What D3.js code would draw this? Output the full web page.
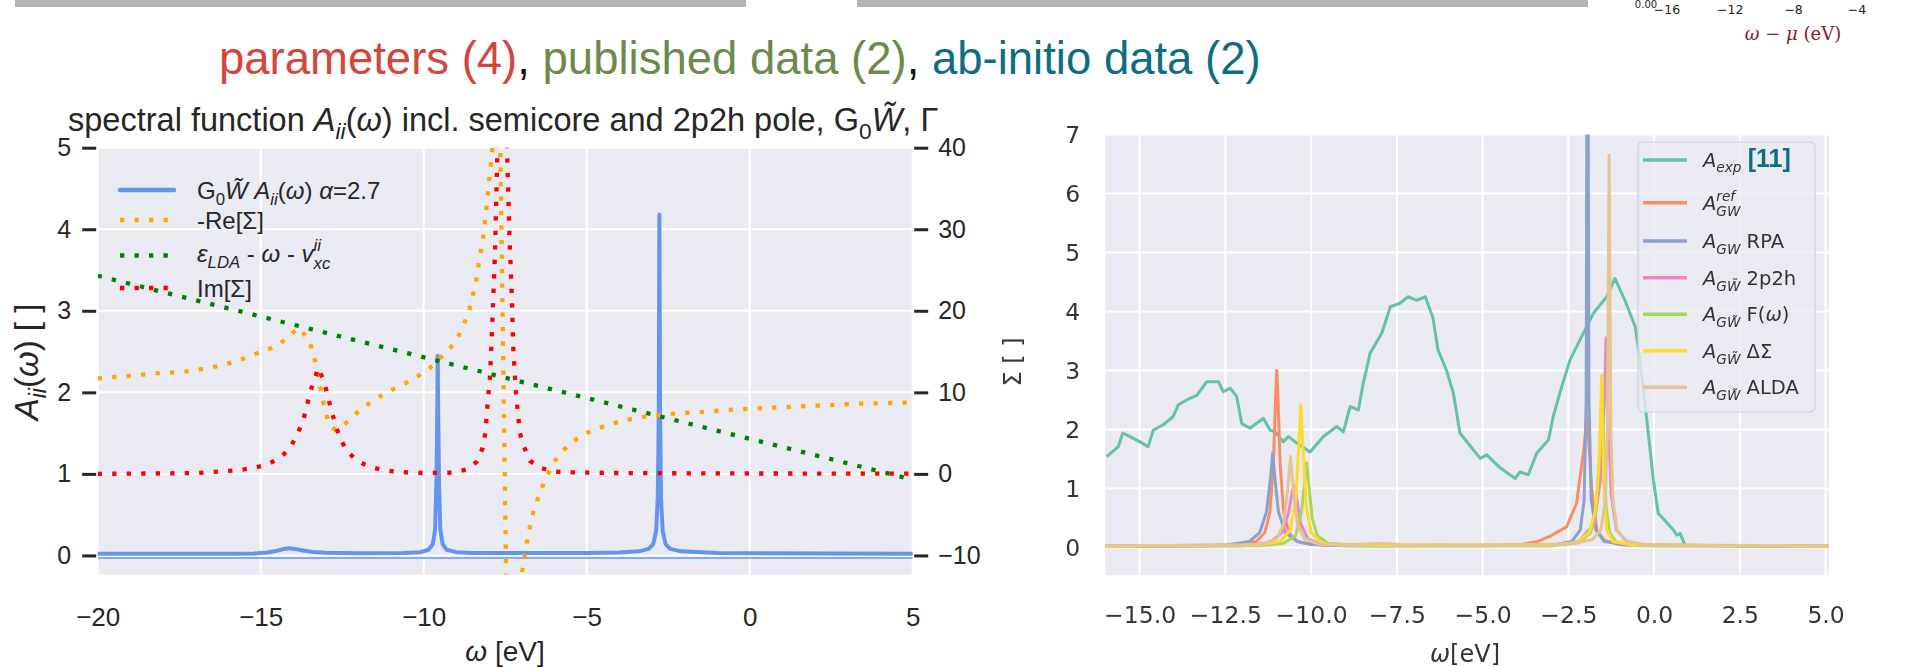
<!DOCTYPE html>
<html>
<head>
<meta charset="utf-8">
<script src="https://cdn.jsdelivr.net/npm/d3@7"></script>
<style>
  body { margin: 0; background: #fff; }
  svg { display: block; }
</style>
</head>
<body>
<script>

// ---- left panel: spectral function (left axis) and self energy (right axis), omega in eV
var leftXTicks = [-20, -15, -10, -5, 0, 5];
var leftYTicks = [0, 1, 2, 3, 4, 5];
var sigmaTicks = [-10, 0, 10, 20, 30, 40];

var specA = [[-20,0.02],[-16,0.022],[-15.2,0.025],[-14.8,0.035],[-14.5,0.058],[-14.3,0.078],[-14.14,0.088],
  [-13.95,0.08],[-13.7,0.06],[-13.4,0.042],[-13.0,0.032],[-12.0,0.026],[-10.6,0.03],[-10.1,0.04],[-9.85,0.07],
  [-9.72,0.14],[-9.65,0.32],[-9.61,0.9],[-9.585,1.7],[-9.57,2.45],[-9.555,1.7],[-9.53,0.9],[-9.49,0.32],
  [-9.42,0.14],[-9.3,0.07],[-9.0,0.04],[-8.5,0.03],[-5,0.03],[-4.0,0.035],[-3.4,0.05],[-3.1,0.08],[-2.96,0.14],
  [-2.87,0.3],[-2.82,0.7],[-2.79,1.7],[-2.77,4.18],[-2.75,1.7],[-2.72,0.7],[-2.67,0.3],[-2.58,0.14],
  [-2.44,0.08],[-2.1,0.05],[-1.0,0.03],[5,0.02]];
var specThin = [[-20,-0.03],[5,-0.03]];

var negReSigma = [[-20,11.7],[-19.1,12.0],[-18.3,12.3],[-17.4,12.5],[-16.55,13.0],[-15.75,13.8],[-14.9,15.1],
  [-14.5,15.7],[-14.15,16.8],[-13.85,17.9],[-13.54,16.6],[-13.39,14.8],[-13.28,13.0],[-13.18,10.8],[-13.08,8.8],
  [-12.97,7.0],[-12.85,5.8],[-12.71,5.4],[-12.55,5.8],[-12.37,6.3],[-12.05,7.5],[-11.69,8.6],[-11.34,9.5],
  [-10.93,10.4],[-10.57,11.1],[-10.17,12.0],[-9.81,13.0],[-9.5,14.2],[-9.19,15.4],[-8.94,16.8],[-8.75,18.5],
  [-8.61,20.0],[-8.4,23.4],[-8.27,26.9],[-8.19,28.5],[-8.14,30.3],[-8.09,32.0],[-8.05,33.7],[-8.0,35.5],
  [-7.97,37.1],[-7.91,38.9],[-7.85,42],[-7.7,54.5],[-7.36,-45],[-7.2,-25],[-7.1,-17],[-6.98,-12.0],
  [-6.84,-8.5],[-6.72,-6],[-6.62,-4.4],[-6.45,-2.5],[-6.32,-1.15],[-6.0,1.5],[-5.62,3.3],[-5.15,4.8],
  [-4.49,5.8],[-3.84,6.6],[-3.09,7.1],[-2.33,7.4],[-1.4,7.6],[-0.46,7.9],[1.42,8.25],[3.3,8.6],[5,8.75]];

var epsLine = [[-20,24.3],[5,-0.7]];

var imSigma = [[-20,0],[-17,0.1],[-16.2,0.3],[-15.67,0.48],[-15.25,0.69],[-14.83,1.1],[-14.43,1.9],
  [-14.12,3.05],[-13.91,4.6],[-13.73,6.2],[-13.61,7.8],[-13.51,9.6],[-13.4,11.1],[-13.23,13.0],[-13.04,11.1],
  [-12.83,7.75],[-12.71,6.1],[-12.58,4.5],[-12.37,2.9],[-12.08,1.7],[-11.69,0.9],[-11.28,0.5],[-10.84,0.27],
  [-10.41,0.15],[-9.97,0.1],[-9.1,0.15],[-8.67,0.56],[-8.37,1.5],[-8.19,3.2],[-8.11,5.0],[-8.05,8.2],
  [-7.97,11.7],[-7.91,17.0],[-7.86,22.2],[-7.81,27.5],[-7.78,32.8],[-7.74,39.5],[-7.59,90],[-7.44,39.5],
  [-7.37,29.1],[-7.3,22.2],[-7.25,15.2],[-7.17,9.9],[-7.05,5.0],[-6.92,3.3],[-6.74,1.6],[-6.4,0.7],
  [-5.97,0.27],[-5.53,0.2],[-4,0.1],[0,0.05],[5,0.03]];

// ---- right panel: spectra vs experiment
var omegaTicks = [-15, -12.5, -10, -7.5, -5, -2.5, 0, 2.5, 5];
var aTicks = [0, 1, 2, 3, 4, 5, 6, 7];

var aExp = [[-15.96,1.54],[-15.62,1.71],[-15.49,1.94],[-15.28,1.88],[-14.99,1.79],[-14.75,1.71],[-14.6,1.99],
  [-14.31,2.08],[-14.02,2.22],[-13.87,2.42],[-13.63,2.5],[-13.33,2.58],[-13.04,2.81],[-12.7,2.81],[-12.56,2.64],
  [-12.36,2.7],[-12.17,2.56],[-12.02,2.1],[-11.78,2.02],[-11.39,2.19],[-11.2,1.99],[-11.05,1.96],[-10.81,1.79],
  [-10.66,1.88],[-10.42,1.77],[-10.03,1.62],[-9.64,1.88],[-9.25,2.05],[-9.06,1.96],[-8.86,2.39],[-8.62,2.33],
  [-8.48,2.78],[-8.28,3.29],[-7.94,3.63],[-7.69,4.08],[-7.41,4.14],[-7.17,4.25],[-6.92,4.19],[-6.67,4.25],
  [-6.45,3.9],[-6.3,3.35],[-6.05,3.0],[-5.85,2.61],[-5.66,1.94],[-5.4,1.75],[-5.07,1.51],[-4.88,1.57],
  [-4.49,1.35],[-4.05,1.17],[-3.91,1.28],[-3.67,1.23],[-3.42,1.6],[-3.08,1.82],[-2.94,2.22],[-2.69,2.73],
  [-2.45,3.18],[-2.16,3.52],[-1.77,3.97],[-1.38,4.25],[-1.14,4.56],[-0.85,4.19],[-0.55,3.74],[-0.41,3.18],
  [-0.21,2.16],[-0.02,1.14],[0.12,0.58],[0.56,0.30],[0.66,0.21],[0.76,0.24],[0.9,0.04]];

var aRef = [[-16,0.02],[-13,0.03],[-12,0.05],[-11.6,0.1],[-11.35,0.25],[-11.2,0.6],[-11.1,1.4],[-11.03,2.6],
  [-11.0,3.0],[-10.97,2.6],[-10.9,1.4],[-10.8,0.6],[-10.65,0.25],[-10.4,0.1],[-10.0,0.05],[-9,0.03],[-5,0.03],
  [-4,0.04],[-3.4,0.1],[-3.0,0.2],[-2.55,0.35],[-2.26,0.75],[-2.06,1.6],[-1.95,2.22],[-1.82,1.0],[-1.67,0.3],
  [-1.45,0.12],[-1.0,0.05],[0,0.03],[5.1,0.02]];

var aRpa = [[-16,0.02],[-12.5,0.04],[-11.8,0.1],[-11.5,0.25],[-11.3,0.6],[-11.18,1.2],[-11.12,1.6],[-11.06,1.2],
  [-10.95,0.6],[-10.75,0.25],[-10.4,0.1],[-10.0,0.05],[-9,0.03],[-3,0.04],[-2.4,0.1],[-2.15,0.3],[-2.04,0.8],
  [-1.98,2.5],[-1.94,12],[-1.9,2.5],[-1.83,0.8],[-1.7,0.3],[-1.45,0.1],[-0.8,0.04],[5.1,0.02]];

var a2p2h = [[-16,0.02],[-12,0.03],[-11.2,0.08],[-10.85,0.25],[-10.65,0.6],[-10.55,0.95],[-10.5,1.05],
  [-10.44,0.9],[-10.3,0.4],[-10.1,0.15],[-9.7,0.05],[-8,0.03],[-3,0.03],[-2.2,0.1],[-1.75,0.4],[-1.55,1.2],
  [-1.45,2.5],[-1.4,3.55],[-1.35,2.4],[-1.25,0.9],[-1.1,0.3],[-0.8,0.1],[-0.2,0.04],[5.1,0.02]];

var aF = [[-16,0.02],[-11.5,0.03],[-10.8,0.07],[-10.45,0.2],[-10.28,0.6],[-10.18,1.15],[-10.13,1.43],
  [-10.07,1.1],[-9.97,0.5],[-9.82,0.2],[-9.5,0.07],[-8.5,0.03],[-3,0.03],[-2.2,0.08],[-1.85,0.25],[-1.68,0.7],
  [-1.58,1.6],[-1.52,2.85],[-1.47,1.8],[-1.4,0.7],[-1.3,0.25],[-1.1,0.09],[-0.5,0.03],[5.1,0.02]];

var aDS = [[-16,0.02],[-11.5,0.04],[-10.9,0.1],[-10.6,0.3],[-10.45,0.8],[-10.36,1.7],[-10.3,2.42],[-10.24,1.7],
  [-10.14,0.7],[-10.0,0.25],[-9.7,0.08],[-9.2,0.04],[-3,0.04],[-2.3,0.08],[-1.9,0.25],[-1.72,0.6],[-1.62,1.3],
  [-1.56,2.2],[-1.53,2.92],[-1.5,2.0],[-1.45,0.8],[-1.38,0.3],[-1.2,0.1],[-0.6,0.04],[5.1,0.02]];

var aAlda = [[-16,0.03],[-12,0.04],[-11.4,0.06],[-11.0,0.15],[-10.8,0.4],[-10.68,1.0],[-10.6,1.54],[-10.52,1.0],
  [-10.4,0.4],[-10.2,0.15],[-9.8,0.06],[-9,0.04],[-8.0,0.07],[-7.4,0.05],[-5,0.04],[-2.5,0.06],[-1.8,0.13],
  [-1.55,0.3],[-1.42,0.8],[-1.36,2.0],[-1.31,6.65],[-1.26,2.0],[-1.2,0.8],[-1.08,0.3],[-0.85,0.12],
  [-0.3,0.04],[5.1,0.03]];

// bits of a neighbouring figure cut off at the top right
var miniTicks = [-16, -12, -8, -4];

var width = 1914, height = 667;
var LF = '"Liberation Sans", Arial, sans-serif';
var DF = '"DejaVu Sans", sans-serif';

var svg = d3.select("body").append("svg")
    .attr("width", width)
    .attr("height", height);

// rich text helper: parts with italic / sub / sup, offsets kept in em
function rich(text, parts) {
  var off = 0, prev = null;
  var base = parseFloat(window.getComputedStyle(text.node()).fontSize);
  parts.forEach(function(p) {
    var k = p.k || 1, s = p.s || 0;
    var ts = text.append("tspan").text(p.t);
    if (k !== 1) ts.attr("font-size", k + "em");
    if (s - off) ts.attr("dy", ((s - off) / k) + "em");
    off = s;
    if (p.i) ts.style("font-style", "italic");
    if (p.b) ts.style("font-weight", "bold");
    if (p.c) ts.style("fill", p.c);
    if (p.f) ts.style("font-family", p.f);
    if (p.fs) ts.attr("font-size", p.fs);
    if (p.back && prev) {
      var wPrev = prev.node().getComputedTextLength();
      ts.attr("dx", (-wPrev / (base * k)) + "em");
    }
    prev = ts;
  });
  return text;
}
function fitWidth(text, w) {
  var fs = parseFloat(text.attr("font-size"));
  var cur = text.node().getBBox().width;
  text.attr("font-size", fs * w / cur);
}

// grey bars at the top
svg.append("rect").attr("x", 15).attr("y", 0).attr("width", 731).attr("height", 7).attr("fill", "#b3b3b3");
svg.append("rect").attr("x", 857).attr("y", 0).attr("width", 731).attr("height", 7).attr("fill", "#b3b3b3");

// cut-off neighbour figure
svg.append("text").attr("x", 1646).attr("y", 8).attr("text-anchor", "middle")
  .attr("font-family", DF).attr("font-size", 10).attr("fill", "#222").text("0.00");
svg.selectAll(".mini").data(miniTicks).enter().append("text")
  .attr("class", "mini")
  .attr("x", function(d, i) { return 1667 + i * 63.3; })
  .attr("y", 14)
  .attr("text-anchor", "middle")
  .attr("font-family", DF).attr("font-size", 12.5).attr("fill", "#222")
  .text(function(d) { return d3.format("d")(d); });
rich(svg.append("text").attr("x", 1793).attr("y", 40).attr("text-anchor", "middle")
  .attr("font-family", '"DejaVu Serif", "Liberation Serif", serif').attr("font-size", 18).attr("fill", "#8b1a1a"),
  [{t: "ω", i: true}, {t: " − "}, {t: "μ", i: true}, {t: " (eV)"}]);

// main title
var title = svg.append("text").attr("x", 219).attr("y", 74)
  .attr("font-family", LF).attr("font-size", 45);
rich(title, [{t: "parameters (4)", c: "#d0473d"}, {t: ", ", c: "#111"},
  {t: "published data (2)", c: "#6d8a4c"}, {t: ", ", c: "#111"}, {t: "ab-initio data (2)", c: "#0d6e80"}]);
fitWidth(title, 1042);

// ================= left panel =================
var L = {x0: 97.7, x1: 912.7, y0: 574.6, y1: 147.7};
var xL = d3.scaleLinear().domain([-20, 5]).range([L.x0, L.x1]);
var yL = d3.scaleLinear().domain([-0.235, 5]).range([L.y0, L.y1]);
var yS = d3.scaleLinear().domain([-12.35, 40]).range([L.y0, L.y1]);

var gl = svg.append("g");
gl.append("rect").attr("x", L.x0).attr("y", L.y1).attr("width", L.x1 - L.x0).attr("height", L.y0 - L.y1)
  .attr("fill", "#eaeaf2");
svg.append("clipPath").attr("id", "clipL").append("rect")
  .attr("x", L.x0).attr("y", L.y1).attr("width", L.x1 - L.x0).attr("height", L.y0 - L.y1);

gl.selectAll(".gx").data(leftXTicks).enter().append("line")
  .attr("x1", xL).attr("x2", xL).attr("y1", L.y1).attr("y2", L.y0)
  .attr("stroke", "#fff").attr("stroke-width", 2);
gl.selectAll(".gy").data(leftYTicks).enter().append("line")
  .attr("x1", L.x0).attr("x2", L.x1).attr("y1", yL).attr("y2", yL)
  .attr("stroke", "#fff").attr("stroke-width", 2);

var lineA = d3.line().x(function(d) { return xL(d[0]); }).y(function(d) { return yL(d[1]); });
var lineS = d3.line().x(function(d) { return xL(d[0]); }).y(function(d) { return yS(d[1]); });
var plotL = gl.append("g").attr("clip-path", "url(#clipL)");
var dots = "4.3 10.2";

plotL.append("path").datum(specThin).attr("d", lineA)
  .attr("fill", "none").attr("stroke", "#6495ed").attr("stroke-width", 1.5);
plotL.append("path").datum(specA).attr("d", lineA)
  .attr("fill", "none").attr("stroke", "#6495ed").attr("stroke-width", 4)
  .attr("stroke-linejoin", "round").attr("stroke-linecap", "round");
plotL.append("path").datum(negReSigma).attr("d", lineS)
  .attr("fill", "none").attr("stroke", "orange").attr("stroke-width", 4.3).attr("stroke-dasharray", dots);
plotL.append("path").datum(epsLine).attr("d", lineS)
  .attr("fill", "none").attr("stroke", "green").attr("stroke-width", 4.3).attr("stroke-dasharray", dots);
plotL.append("path").datum(imSigma).attr("d", lineS)
  .attr("fill", "none").attr("stroke", "red").attr("stroke-width", 4.3).attr("stroke-dasharray", dots);

// axes
var axL = gl.append("g").attr("transform", "translate(" + (L.x0 - 1.5) + ",0)")
  .call(d3.axisLeft(yL).tickValues(leftYTicks).tickSize(14).tickPadding(11).tickFormat(d3.format("d")));
var axR = gl.append("g").attr("transform", "translate(" + (L.x1 + 1.5) + ",0)")
  .call(d3.axisRight(yS).tickValues(sigmaTicks).tickSize(14).tickPadding(10).tickFormat(d3.format("d")));
var axB = gl.append("g").attr("transform", "translate(0," + L.y0 + ")")
  .call(d3.axisBottom(xL).tickValues(leftXTicks).tickSize(0).tickPadding(33).tickFormat(d3.format("d")));
[axL, axR, axB].forEach(function(a) {
  a.attr("font-family", LF).attr("font-size", 25).attr("color", "#262626");
  a.select(".domain").remove();
  a.selectAll(".tick line").attr("stroke-width", 3);
});
axB.attr("font-size", 26);

// labels
rich(gl.append("text").attr("x", 68).attr("y", 131).attr("font-family", LF).attr("font-size", 27)
  .attr("fill", "#262626").attr("class", "subtitle"),
  [{t: "spectral function "}, {t: "A", i: true}, {t: "ii", i: true, k: 0.7, s: 0.25}, {t: "("}, {t: "ω", i: true},
   {t: ") incl. semicore and 2p2h pole, G"}, {t: "0", k: 0.7, s: 0.25}, {t: "W̃", i: true}, {t: ", Γ"}]);
fitWidth(gl.select(".subtitle"), 871);

rich(gl.append("text").attr("transform", "translate(38,362) rotate(-90)").attr("text-anchor", "middle")
  .attr("font-family", LF).attr("font-size", 33).attr("fill", "#262626"),
  [{t: "A", i: true}, {t: "ii", i: true, k: 0.7, s: 0.25}, {t: "("}, {t: "ω", i: true}, {t: ") [ ]"}]);

rich(gl.append("text").attr("x", 505).attr("y", 661).attr("text-anchor", "middle")
  .attr("font-family", LF).attr("font-size", 28).attr("fill", "#262626"),
  [{t: "ω", i: true}, {t: " [eV]"}]);

// legend (no frame)
var legL = gl.append("g").attr("font-family", LF).attr("font-size", 24).attr("fill", "#262626");
legL.append("line").attr("x1", 120).attr("x2", 174).attr("y1", 190).attr("y2", 190)
  .attr("stroke", "#6495ed").attr("stroke-width", 4.5).attr("stroke-linecap", "round");
[["orange", 220], ["green", 255.5], ["red", 288]].forEach(function(m) {
  legL.append("line").attr("x1", 120).attr("x2", 172).attr("y1", m[1]).attr("y2", m[1])
    .attr("stroke", m[0]).attr("stroke-width", 4.3).attr("stroke-dasharray", dots);
});
rich(legL.append("text").attr("x", 197).attr("y", 199),
  [{t: "G"}, {t: "0", k: 0.7, s: 0.25}, {t: "W̃", i: true}, {t: " "}, {t: "A", i: true},
   {t: "ii", i: true, k: 0.7, s: 0.25}, {t: "("}, {t: "ω", i: true}, {t: ") "}, {t: "α", i: true}, {t: "=2.7"}]);
rich(legL.append("text").attr("x", 197).attr("y", 228.5), [{t: "-Re[Σ]"}]);
rich(legL.append("text").attr("x", 197).attr("y", 262),
  [{t: "ε", i: true}, {t: "LDA", i: true, k: 0.7, s: 0.25}, {t: " - "}, {t: "ω", i: true}, {t: " - "},
   {t: "v", i: true}, {t: "xc", i: true, k: 0.7, s: 0.3}, {t: "ii", i: true, k: 0.7, s: -0.45, back: true}]);
rich(legL.append("text").attr("x", 197).attr("y", 297), [{t: "Im[Σ]"}]);

// ================= right panel =================
var R = {x0: 1105.3, x1: 1829, y0: 575.2, y1: 134.5};
var xR = d3.scaleLinear().domain([-16, 5.1]).range([R.x0, R.x1]);
var yR = d3.scaleLinear().domain([-0.47, 7]).range([R.y0, R.y1]);

var defs = svg.append("defs");
defs.append("filter").attr("id", "soft").append("feGaussianBlur").attr("stdDeviation", 0.5);
svg.append("clipPath").attr("id", "clipR").append("rect")
  .attr("x", R.x0).attr("y", R.y1).attr("width", R.x1 - R.x0).attr("height", R.y0 - R.y1);

var gr = svg.append("g").attr("filter", "url(#soft)");
gr.append("rect").attr("x", R.x0).attr("y", R.y1).attr("width", R.x1 - R.x0).attr("height", R.y0 - R.y1)
  .attr("fill", "#eaeaf2");
gr.selectAll(".rgx").data(omegaTicks).enter().append("line")
  .attr("x1", xR).attr("x2", xR).attr("y1", R.y1).attr("y2", R.y0)
  .attr("stroke", "#fff").attr("stroke-width", 2);
gr.selectAll(".rgy").data(aTicks).enter().append("line")
  .attr("x1", R.x0).attr("x2", R.x1).attr("y1", yR).attr("y2", yR)
  .attr("stroke", "#fff").attr("stroke-width", 2);

var lineR = d3.line().x(function(d) { return xR(d[0]); }).y(function(d) { return yR(d[1]); });
var series = [
  {d: aExp, c: "#66c2a5"}, {d: aRef, c: "#fc8d62"}, {d: aRpa, c: "#8da0cb"}, {d: a2p2h, c: "#e78ac3"},
  {d: aF, c: "#a6d854"}, {d: aDS, c: "#ffd92f"}, {d: aAlda, c: "#e5c494"}
];
var plotR = gr.append("g").attr("clip-path", "url(#clipR)");
plotR.selectAll(".spec").data(series).enter().append("path")
  .attr("class", "spec")
  .attr("d", function(s) { return lineR(s.d); })
  .attr("fill", "none").attr("stroke", function(s) { return s.c; }).attr("stroke-width", 3)
  .attr("stroke-linejoin", "round");

var rAxL = gr.append("g").attr("transform", "translate(" + R.x0 + ",0)")
  .call(d3.axisLeft(yR).tickValues(aTicks).tickSize(0).tickPadding(25).tickFormat(d3.format("d")));
var rAxB = gr.append("g").attr("transform", "translate(0," + R.y0 + ")")
  .call(d3.axisBottom(xR).tickValues(omegaTicks).tickSize(0).tickPadding(31.5).tickFormat(d3.format(".1f")));
[rAxL, rAxB].forEach(function(a) {
  a.attr("font-family", DF).attr("font-size", 23.5).attr("color", "#363636");
  a.select(".domain").remove();
});

gr.append("text").attr("transform", "translate(1021,362) rotate(-90)").attr("text-anchor", "middle")
  .attr("font-family", DF).attr("font-size", 24).attr("fill", "#363636").text("Σ [ ]");
rich(gr.append("text").attr("x", 1465).attr("y", 662).attr("text-anchor", "middle")
  .attr("font-family", DF).attr("font-size", 24).attr("fill", "#363636"),
  [{t: "ω", i: true}, {t: "[eV]"}]);

// legend
var legR = gr.append("g").attr("font-family", DF).attr("font-size", 19.5).attr("fill", "#333");
legR.append("rect").attr("x", 1638).attr("y", 142).attr("width", 177).attr("height", 270).attr("rx", 5)
  .attr("fill", "#eaeaf2").attr("fill-opacity", 0.8).attr("stroke", "#cfcfd6").attr("stroke-width", 1.2);
var legRows = [
  [{t: "A", i: true}, {t: "exp", i: true, k: 0.7, s: 0.25}, {t: " "},
   {t: "[11]", b: true, c: "#0d6e80", f: LF, fs: 25}],
  [{t: "A", i: true}, {t: "GW", i: true, k: 0.7, s: 0.3}, {t: "ref", i: true, k: 0.7, s: -0.45, back: true}],
  [{t: "A", i: true}, {t: "GW", i: true, k: 0.7, s: 0.3}, {t: " RPA"}],
  [{t: "A", i: true}, {t: "GW̃", i: true, k: 0.7, s: 0.3}, {t: " 2p2h"}],
  [{t: "A", i: true}, {t: "GW̃", i: true, k: 0.7, s: 0.3}, {t: " F("}, {t: "ω", i: true}, {t: ")"}],
  [{t: "A", i: true}, {t: "GW̃", i: true, k: 0.7, s: 0.3}, {t: " ΔΣ"}],
  [{t: "A", i: true}, {t: "GW̃", i: true, k: 0.7, s: 0.3}, {t: " ALDA"}]
];
var legY = [160, 202.7, 241, 277.7, 314.3, 350.7, 387.3];
series.forEach(function(s, i) {
  legR.append("line").attr("x1", 1643).attr("x2", 1687).attr("y1", legY[i]).attr("y2", legY[i])
    .attr("stroke", s.c).attr("stroke-width", 3.5);
  rich(legR.append("text").attr("x", 1703).attr("y", legY[i] + 7), legRows[i]);
});

</script>
</body>
</html>
